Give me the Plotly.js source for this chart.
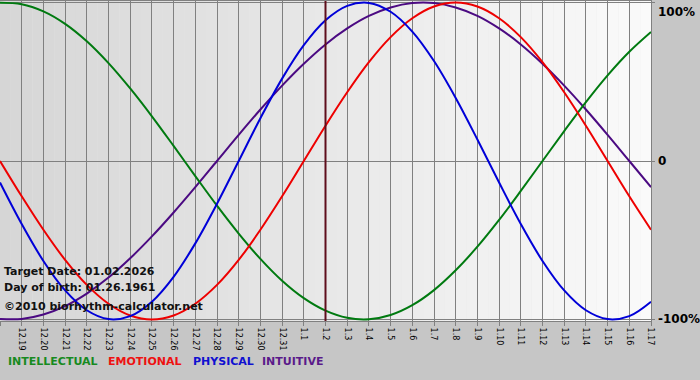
<!DOCTYPE html>
<html>
<head>
<meta charset="utf-8">
<script src="https://cdn.plot.ly/plotly-3.0.1.min.js"></script>
<style>html,body{margin:0;padding:0;background:#c8c8c8;}#chart{width:700px;height:380px;}</style>
</head>
<body>
<div id="chart"></div>
<script>
const dates = ["12.18","12.19","12.20","12.21","12.22","12.23","12.24","12.25","12.26","12.27","12.28","12.29","12.30","12.31","1.1","1.2","1.3","1.4","1.5","1.6","1.7","1.8","1.9","1.10","1.11","1.12","1.13","1.14","1.15","1.16","1.17"];
const intellectual = [0.999,0.990,0.945,0.866,0.756,0.618,0.458,0.282,0.095,-0.095,-0.282,-0.458,-0.618,-0.756,-0.866,-0.945,-0.990,-0.999,-0.972,-0.910,-0.815,-0.690,-0.541,-0.372,-0.189,0.000,0.189,0.372,0.541,0.690,0.815];
const emotional = [0.000,-0.223,-0.434,-0.624,-0.782,-0.901,-0.975,-1.000,-0.975,-0.901,-0.782,-0.624,-0.434,-0.223,0.000,0.223,0.434,0.624,0.782,0.901,0.975,1.000,0.975,0.901,0.782,0.624,0.434,0.223,0.000,-0.223,-0.434];
const physical = [-0.136,-0.398,-0.631,-0.817,-0.942,-0.998,-0.979,-0.888,-0.731,-0.520,-0.270,0.000,0.270,0.520,0.731,0.888,0.979,0.998,0.942,0.817,0.631,0.398,0.136,-0.136,-0.398,-0.631,-0.817,-0.942,-0.998,-0.979,-0.888];
const intuitive = [-0.997,-0.997,-0.969,-0.916,-0.837,-0.736,-0.614,-0.476,-0.325,-0.165,0.000,0.165,0.325,0.476,0.614,0.736,0.837,0.916,0.969,0.997,0.997,0.969,0.916,0.837,0.736,0.614,0.476,0.325,0.165,0.000,-0.165];
const targetDate = "1.2";
const yTickVals = [-1, 0, 1];
const yTickText = ["-100%", "0", "100%"];
const legendNames = ["INTELLECTUAL", "EMOTIONAL", "PHYSICAL", "INTUITIVE"];

const xs = dates.map((d, i) => i);
const targetIdx = dates.indexOf(targetDate);

function mk(y, color, name) {
  return {x: xs, y: y, type: 'scatter', mode: 'lines', name: name,
          line: {color: color, width: 2, shape: 'spline', smoothing: 1}, hoverinfo: 'skip'};
}
const traces = [
  mk(intuitive, '#4b0a82', 'INTUITIVE'),
  mk(intellectual, '#007a10', 'INTELLECTUAL'),
  mk(emotional, '#ee0000', 'EMOTIONAL'),
  mk(physical, '#0000d8', 'PHYSICAL')
];

// background gradient strips
const shapes = [];
const nStrips = 60, n = dates.length - 1;
for (let k = 0; k < nStrips; k++) {
  const t = k / (nStrips - 1);
  const v = Math.round(0xd6 + (0xfa - 0xd6) * t);
  shapes.push({type: 'rect', xref: 'x', yref: 'paper', x0: n * k / nStrips, x1: n * (k + 1) / nStrips,
    y0: 0, y1: 1, fillcolor: `rgb(${v},${v},${v})`, line: {width: 0}, layer: 'below'});
}
shapes.push({type: 'line', xref: 'x', yref: 'paper', x0: targetIdx, x1: targetIdx, y0: 0, y1: 1,
  line: {color: '#5e0e1c', width: 2}, layer: 'above'});

const font = 'DejaVu Sans, Verdana, sans-serif';
const annotations = [
  {xref: 'paper', yref: 'paper', x: 0.003, y: 0.156, xanchor: 'left', yanchor: 'middle', showarrow: false,
   text: 'Target Date: 01.02.2026', font: {family: font, size: 11, color: '#111', weight: 'bold'}},
  {xref: 'paper', yref: 'paper', x: 0.003, y: 0.106, xanchor: 'left', yanchor: 'middle', showarrow: false,
   text: 'Day of birth: 01.26.1961', font: {family: font, size: 11, color: '#111', weight: 'bold'}},
  {xref: 'paper', yref: 'paper', x: 0.003, y: 0.044, xanchor: 'left', yanchor: 'middle', showarrow: false,
   text: '©2010 biorhythm-calculator.net', font: {family: font, size: 11, color: '#111', weight: 'bold'}}
];
// legend words
const legendColors = ['#178a1f', '#ee1111', '#1010d0', '#5a1a8a'];
const legendPx = [6, 106, 191, 260];
legendNames.forEach((nm, i) => {
  annotations.push({xref: 'paper', yref: 'paper', x: legendPx[i] / 651, y: -0.125, xanchor: 'left', yanchor: 'middle',
    showarrow: false, text: nm, font: {family: font, size: 11, color: legendColors[i], weight: 'bold'}});
});
// y tick labels on the right
yTickVals.forEach((v, i) => {
  annotations.push({xref: 'paper', yref: 'y', x: 1.0, xshift: 5, y: v, xanchor: 'left',
    yanchor: v === 1 ? 'top' : 'middle', showarrow: false, text: yTickText[i],
    font: {family: font, size: 12, color: '#000', weight: 'bold'}});
});

const layout = {
  width: 700, height: 380,
  margin: {l: 0, r: 49, t: 1, b: 59},
  paper_bgcolor: '#c6c6c6', plot_bgcolor: '#e6e6e6',
  showlegend: false,
  xaxis: {range: [0, n], tickmode: 'array', tickvals: xs, ticktext: dates, tickangle: 90,
    tickfont: {family: font, size: 8, color: '#000'}, ticks: 'outside', ticklen: 4, tickcolor: '#808080',
    showgrid: true, gridcolor: '#808080', gridwidth: 1, zeroline: false,
    showline: true, linecolor: '#808080', linewidth: 1, mirror: true, fixedrange: true},
  yaxis: {range: [-1.01, 1.01], side: 'right', tickmode: 'array', tickvals: yTickVals, showticklabels: false,
    ticks: 'outside', ticklen: 3, tickcolor: '#808080',
    showgrid: true, gridcolor: '#808080', gridwidth: 1, zeroline: false,
    showline: true, linecolor: '#808080', linewidth: 1, mirror: true, fixedrange: true},
  shapes: shapes,
  annotations: annotations
};
Plotly.newPlot('chart', traces, layout, {staticPlot: true, displayModeBar: false});
</script>
</body>
</html>
